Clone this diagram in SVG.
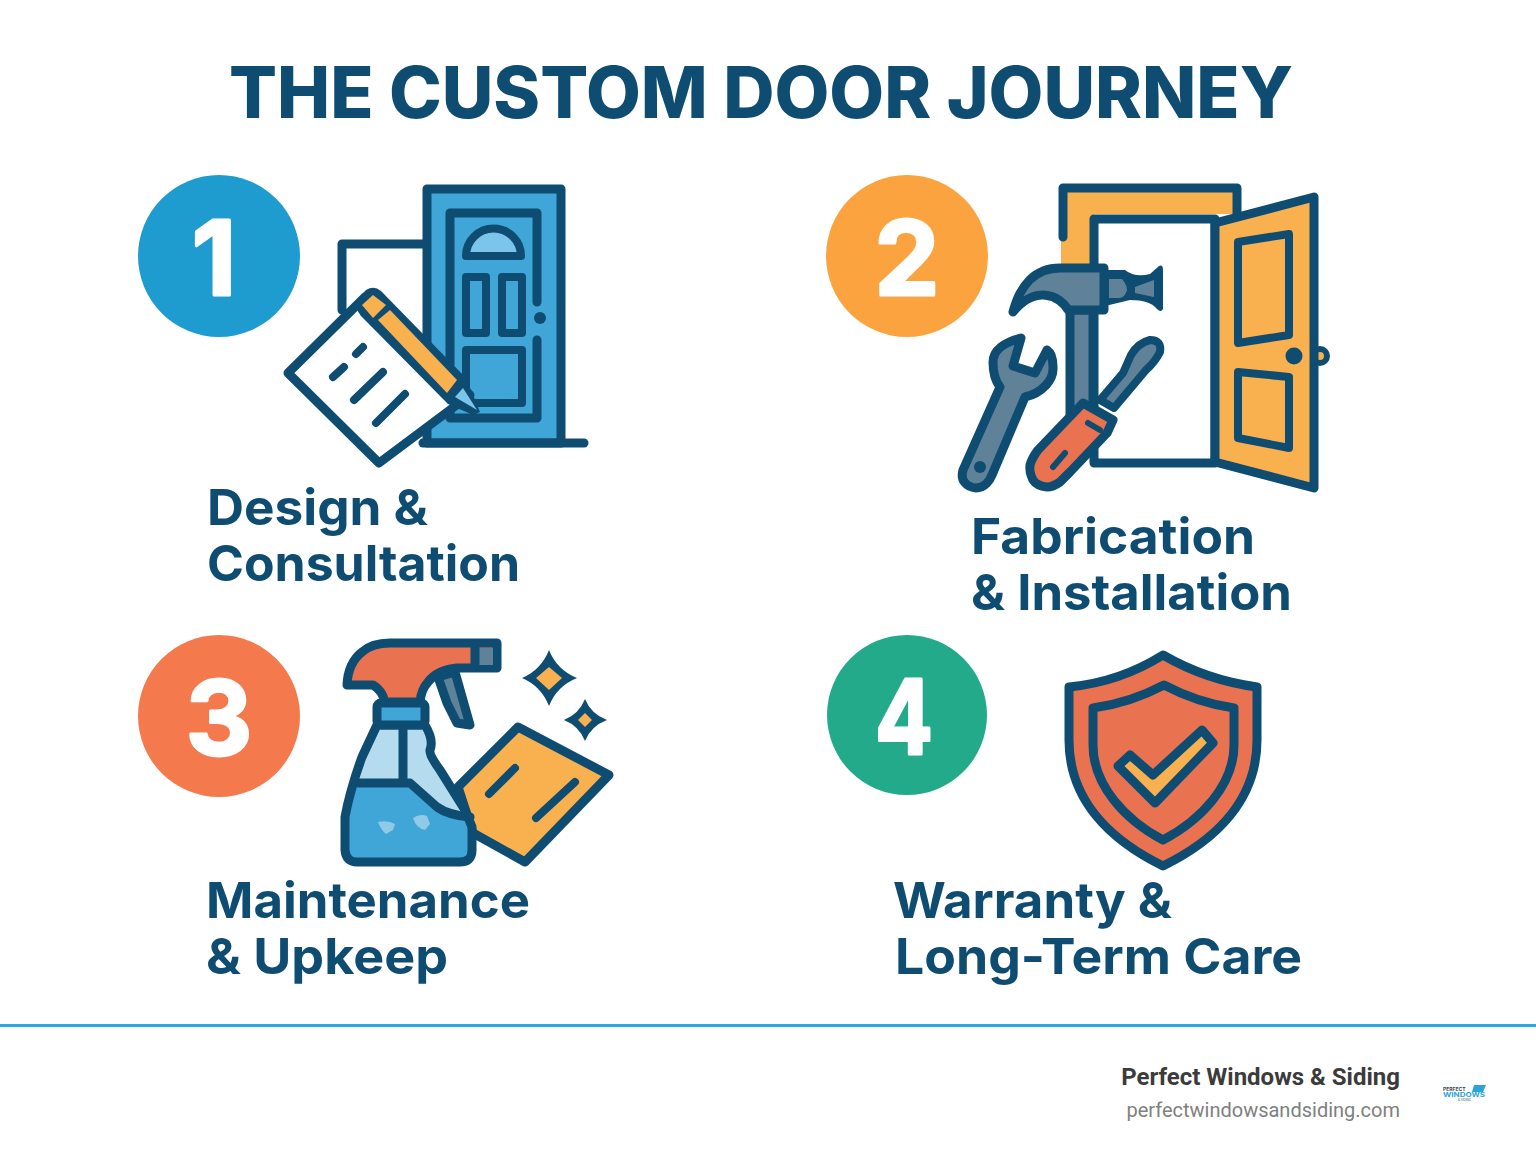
<svg xmlns="http://www.w3.org/2000/svg" width="1536" height="1154" viewBox="0 0 1536 1154">
<style>
.d{stroke:#0f4c72;stroke-width:9;stroke-linejoin:round;stroke-linecap:round}
.n{fill:none}
.s7{stroke-width:8}
.bl{fill:#40a5d7}.lb{fill:#7cc5ea}.pb{fill:#b5dcee}.or{fill:#f9b04f}.rd{fill:#e97350}.gr{fill:#5f8299}.wh{fill:#fff}
.k{fill:#0f4c72}
.t{font-family:Inter,"Noto Sans",sans-serif;font-weight:700;fill:#0f4c72}
.lab{font-size:50px}
.num{font-family:Inter,"Noto Sans",sans-serif;font-weight:700;font-size:103px;fill:#fff;text-anchor:middle;stroke:#fff;stroke-width:3;stroke-linejoin:round}
</style>
<rect width="1536" height="1154" fill="#fff"/>
<text id="title" class="t" x="761" y="118" font-size="71" style="font-weight:800" text-anchor="middle" textLength="1064" lengthAdjust="spacingAndGlyphs">THE CUSTOM DOOR JOURNEY</text>

<g id="step-1">
<circle cx="219" cy="256" r="81" fill="#1e9bcf"/>
<text class="num" x="214" y="295">1</text>
<path class="d n" d="M342 310V244H430"/>
<rect class="d bl" x="427" y="189" width="134" height="254"/>
<path class="d n" d="M423 443H584"/>
<path class="d n" d="M537 302V213H450V418H537V340"/>
<path class="d lb s7" d="M466 256a27.500 27.500 0 0 1 55 0z"/>
<rect class="d n s7" x="466" y="277" width="20" height="56"/>
<rect class="d n s7" x="502" y="277" width="20" height="56"/>
<rect class="d n s7" x="466" y="350" width="56" height="53"/>
<circle cx="540" cy="318" r="6" class="k"/>
<path class="d wh" d="M288 373L365 297L470 395L379 463Z"/>
<path class="k" d="M353 304L366 290Q374 285 381 291L466 378L480 412L473 415L448 404L361 316Z"/>
<path class="or" d="M362 305L373 295L386 305L373 318Z"/>
<path class="or" d="M378 320L390 310L457 380L447 393Z"/>
<path class="lb" d="M455 397L463 388L477 410Z"/>
<path class="d n s7" d="M356 354L363 347M333 377L344 367M354 400L383 372M376 423L405 394"/>
<text class="t lab" x="207" y="525" textLength="221" lengthAdjust="spacingAndGlyphs">Design &amp;</text>
<text class="t lab" x="207" y="581" textLength="313" lengthAdjust="spacingAndGlyphs">Consultation</text>
</g>

<g id="step-2">
<circle cx="907" cy="256" r="81" fill="#fba33f"/>
<text class="num" x="907" y="295">2</text>
<path class="or" d="M1061 265V192H1236V214H1094V265Z"/>
<path class="d n" d="M1063 237V188H1237V215"/>
<path class="d wh" d="M1094 263V219H1215V463H1094Z"/>
<circle class="d or" cx="1320" cy="356" r="7" style="stroke-width:6"/>
<path class="d or" d="M1215 223L1314 197V488L1215 462Z"/>
<path class="d or s7" d="M1238 242L1289 234V335L1238 343Z"/>
<path class="d or s7" d="M1238 372L1289 377V448L1238 438Z"/>
<circle cx="1294" cy="356" r="8.500" class="k"/>
<path class="d gr" d="M1070 310H1093V415H1070Z"/>
<path class="k" d="M1105 270H1125Q1135 278 1150 274L1159 266Q1163 264 1163 270V309Q1161 313 1157 309Q1150 300 1130 300L1105 306Z"/>
<path class="gr" d="M1109 279H1122Q1127 285 1127 290Q1125 297 1120 298H1109Z"/>
<path class="gr" d="M1135 287L1154 280V297L1135 293Z"/>
<path class="d gr" d="M1013 312C1020 285 1035 268 1060 268H1104V310H1068C1060 295 1035 285 1013 312Z"/>
<path class="d gr" d="M1021 338C1005 342 993 350 993 362C993 375 996 382 1000 387L963 470C960 480 966 487 976 488C985 488 990 480 992 475L1025 397C1042 393 1054 380 1053 367C1053 358 1050 352 1047 350L1035 373L1013 366Z"/>
<circle cx="980" cy="467" r="6" class="k"/>
<path class="d gr s7" d="M1100 400L1123 373L1131 355Q1138 343 1150 340Q1162 340 1160 352Q1155 362 1146 370L1114 408Z"/>
<path class="d rd" d="M1083 403L1113 420L1107 433L1070 472L1060 482Q1053 487 1047 487Q1037 486 1033 480Q1029 472 1030 465Q1032 458 1038 450Z"/>
<path class="d n" d="M1088 423L1100 430M1053 467L1065 453" style="stroke-width:6"/>
<text class="t lab" x="971" y="554" textLength="284" lengthAdjust="spacingAndGlyphs">Fabrication</text>
<text class="t lab" x="971" y="610" textLength="321" lengthAdjust="spacingAndGlyphs">&amp; Installation</text>
</g>

<g id="step-3">
<circle cx="219" cy="716" r="81" fill="#f47a4e"/>
<text class="num" x="219" y="755">3</text>
<path class="d or" d="M518 727L609 775L525 862L473 833L458 787Z"/>
<path class="d n s7" d="M489 794L515 768M536 818L575 782"/>
<path class="k" d="M549 650Q557 670 577 678Q557 686 549 706Q541 686 522 678Q541 670 549 650Z"/>
<path class="or" d="M549 667L562 678L549 690L536 678Z"/>
<path class="k" d="M585 699Q591 714 607 720Q591 726 585 741Q579 726 564 720Q579 714 585 699Z"/>
<path class="or" d="M585 713L592 720L585 727L578 720Z"/>
<path class="d gr" d="M438 677L455 672L470 725L457 723L447 703Z"/>
<path class="d rd" d="M347 685Q348 663 362 652Q372 643 390 643H497V668H457Q437 670 428 682Q421 690 420 702H385Q382 690 373 685Z"/>
<rect x="478" y="648" width="15" height="17" class="gr"/>
<path class="d n" d="M475 645V667"/>
<path class="pb" d="M377 725L362 757Q350 790 345 817V850Q346 862 357 862H460Q472 862 472 850V827L465 810L440 770Q429 755 430 750Q434 740 425 725Z"/>
<path class="bl" d="M354 783H410L437 807Q448 815 470 817L472 850Q472 862 460 862H357Q346 862 345 850V817Z"/>
<path class="d n" d="M403 725V783M358 783H410L437 807Q448 815 470 817"/>
<path class="d n" d="M377 725L362 757Q350 790 345 817V850Q346 862 357 862H460Q472 862 472 850V827L465 810L440 770Q429 755 430 750Q434 740 425 725Z"/>
<rect class="d bl" x="377" y="703" width="48" height="22" rx="4"/>
<path fill="#8fcbe6" d="M378 822Q388 820 395 824L393 830L386 834Q381 830 378 822ZM413 818Q420 813 427 816L430 824L425 830Q416 828 413 818Z"/>
<text class="t lab" x="206" y="918" textLength="324" lengthAdjust="spacingAndGlyphs">Maintenance</text>
<text class="t lab" x="206" y="974" textLength="242" lengthAdjust="spacingAndGlyphs">&amp; Upkeep</text>
</g>

<g id="step-4">
<circle cx="907" cy="715" r="80" fill="#23aa8b"/>
<text class="num" x="904" y="754" textLength="58" lengthAdjust="spacingAndGlyphs">4</text>
<path class="d rd" d="M1163 655Q1120 682 1069 687V740C1069 800 1110 840 1163 866C1216 840 1257 800 1257 740V687Q1206 680 1163 655Z"/>
<path class="d n" d="M1164 685Q1130 703 1093 708V745C1093 785 1125 820 1163 840C1201 820 1234 785 1234 745V708Q1198 703 1164 685Z"/>
<path class="d or" d="M1118 766L1130 755L1153 775L1202 730L1213 743L1155 803Z"/>
<text class="t lab" x="893" y="918" textLength="279" lengthAdjust="spacingAndGlyphs">Warranty &amp;</text>
<text class="t lab" x="895" y="974" textLength="407" lengthAdjust="spacingAndGlyphs">Long-Term Care</text>
</g>

<g id="footer">
<rect x="0" y="1024" width="1536" height="3" fill="#29abe2"/>
<text x="1400" y="1085" font-family="Roboto,sans-serif" font-weight="700" font-size="24" fill="#3b3b3b" text-anchor="end">Perfect Windows &amp; Siding</text>
<text x="1400" y="1117" font-family="Roboto,sans-serif" font-size="20" fill="#808080" text-anchor="end">perfectwindowsandsiding.com</text>
<path d="M1474 1085H1486L1483 1092H1472Z" fill="#2ba4dc"/>
<text x="1443" y="1091" font-family="Inter,sans-serif" font-weight="700" font-size="5" fill="#33475b">PERFECT</text>
<text x="1443" y="1097" font-family="Inter,sans-serif" font-weight="700" font-size="6.500" fill="#2ba4dc" textLength="42" lengthAdjust="spacingAndGlyphs">WINDOWS</text>
<text x="1458" y="1101" font-family="Inter,sans-serif" font-size="3" fill="#555">&amp; SIDING</text>
</g>
</svg>
